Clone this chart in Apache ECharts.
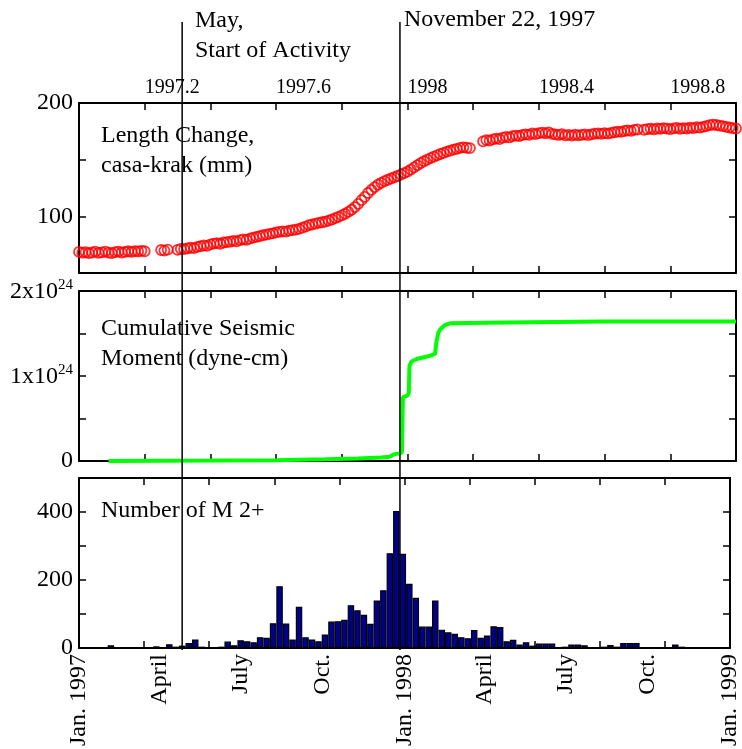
<!DOCTYPE html>
<html><head><meta charset="utf-8">
<script src="https://cdn.jsdelivr.net/npm/echarts@6/dist/echarts.min.js"></script>
<style>html,body{margin:0;padding:0;background:#fff}#c{width:742px;height:749px}</style>
</head><body><div id="c"></div>
<script>
// ---- data ----
const lengthYears = [
1997.00,1997.01,1997.02,1997.03,1997.04,1997.05,1997.06,1997.07,1997.08,1997.09,1997.10,1997.11,1997.12,1997.13,1997.14,1997.15,1997.16,1997.17,1997.18,1997.19,1997.20,
1997.25,1997.26,1997.27,1997.30,1997.31,1997.32,1997.33,1997.34,1997.35,1997.36,1997.37,1997.38,1997.39,1997.40,1997.41,1997.42,1997.43,1997.44,1997.45,1997.46,1997.47,1997.48,1997.49,
1997.50,1997.51,1997.52,1997.53,1997.54,1997.55,1997.56,1997.57,1997.58,1997.59,1997.60,1997.61,1997.62,1997.63,1997.64,1997.65,1997.66,1997.67,1997.68,1997.69,
1997.70,1997.71,1997.72,1997.73,1997.74,1997.75,1997.76,1997.77,1997.78,1997.79,1997.80,1997.81,1997.82,1997.83,1997.84,1997.85,1997.86,1997.87,1997.88,1997.89,
1997.90,1997.91,1997.92,1997.93,1997.94,1997.95,1997.96,1997.97,1997.98,1997.99,1998.00,1998.01,1998.02,1998.03,1998.04,1998.05,1998.06,1998.07,1998.08,1998.09,
1998.10,1998.11,1998.12,1998.13,1998.14,1998.15,1998.16,1998.17,1998.18,1998.19,
1998.23,1998.24,1998.25,1998.26,1998.27,1998.28,1998.29,1998.30,1998.31,1998.32,1998.33,1998.34,1998.35,1998.36,1998.37,1998.38,1998.39,
1998.40,1998.41,1998.42,1998.43,1998.44,1998.45,1998.46,1998.47,1998.48,1998.49,1998.50,1998.51,1998.52,1998.53,1998.54,1998.55,1998.56,1998.57,1998.58,1998.59,
1998.60,1998.61,1998.62,1998.63,1998.64,1998.65,1998.66,1998.67,1998.68,1998.69,1998.70,
1998.72,1998.73,1998.74,1998.75,1998.76,1998.77,1998.78,1998.79,1998.80,1998.81,1998.82,1998.83,1998.84,1998.85,1998.86,1998.87,1998.88,1998.89,
1998.90,1998.91,1998.92,1998.93,1998.94,1998.95,1998.96,1998.97,1998.98,1998.99,1999.00];
const lengthMm = [
68.6,67.9,68.3,67.5,68.1,68.8,67.7,68.2,68.9,68.0,67.6,68.4,68.8,68.1,68.6,69.2,68.7,69.3,69.0,69.6,69.2,
70.3,69.8,70.6,70.4,71.2,71.0,71.8,72.3,72.0,73.1,73.6,74.4,74.0,75.2,75.9,76.3,75.8,76.9,77.2,77.6,78.3,77.9,79.0,
79.6,79.2,80.4,81.2,81.8,82.5,83.3,83.9,84.6,85.0,85.8,86.3,86.8,86.5,87.4,87.9,88.3,88.9,90.1,91.0,
92.2,92.8,93.6,94.2,94.8,95.4,96.3,97.2,98.4,99.6,100.9,102.3,104.0,105.8,108.2,111.0,114.3,117.2,120.6,123.4,
125.8,127.9,129.6,131.0,132.3,133.4,134.5,135.6,136.9,138.2,139.5,141.3,143.2,145.1,147.0,148.6,150.0,151.4,152.6,153.8,
155.0,156.0,157.1,158.0,158.9,159.6,160.4,160.8,160.5,160.2,
166.2,167.3,166.8,167.9,168.6,168.2,169.4,170.1,169.6,170.8,171.3,170.9,171.8,172.4,172.0,173.1,172.6,
173.4,173.9,173.3,174.0,172.8,172.3,171.8,172.6,171.4,171.9,171.2,172.0,171.5,171.9,172.3,171.7,172.4,172.9,173.2,172.8,
173.5,173.0,173.7,174.2,174.8,174.5,175.3,175.8,175.4,176.3,176.6,
176.4,176.9,177.3,176.8,177.5,177.2,177.8,177.4,177.0,177.6,178.0,177.3,177.8,177.5,178.2,177.9,178.6,178.3,
179.0,179.6,180.4,181.0,180.6,180.1,179.6,179.0,178.4,177.8,177.5];

const momentYears = [1997.09,1997.40,1997.60,1997.75,1997.85,1997.92,1997.945,1997.96,1997.975,1997.983,1997.986,1997.999,1998.004,1998.006,1998.012,1998.028,1998.05,1998.07,1998.084,1998.088,1998.094,1998.10,1998.114,1998.13,1998.30,1998.60,1999.00];
const momentE24  = [0,0.005,0.01,0.02,0.03,0.04,0.05,0.08,0.09,0.10,0.75,0.77,0.80,1.12,1.17,1.20,1.22,1.24,1.26,1.40,1.51,1.55,1.60,1.62,1.63,1.64,1.64];

const histFirstCenter = 1997.0183;
const histBinWidth = 0.01993;
const quakeCounts = [
2,1,2,1,8,3,2,3,2,3,
2,5,2,11,4,7,15,25,4,3,
2,4,19,8,23,20,17,32,30,73,
182,72,25,121,32,25,20,40,78,79,
83,126,111,98,71,140,170,279,403,277,
189,148,63,63,140,54,46,42,32,29,
53,30,37,64,62,20,24,10,17,7,
13,13,13,2,4,10,10,8,2,2,
4,9,4,15,15,15,2,1,2,2,
3,10,4,2,1,1,2,1,2,3];

const eventYears = [1997.314, 1997.977];
const eventLabels = ['May,\nStart of Activity', 'November 22, 1997'];
const topTickValues = [1997.2, 1997.6, 1998.0, 1998.4, 1998.8];
const topTickLabels = ['1997.2', '1997.6', '1998', '1998.4', '1998.8'];
const monthTickValues = [1997.0, 1997.2466, 1997.4959, 1997.7479, 1998.0, 1998.2466, 1998.4959, 1998.7479, 1999.0];
const monthTickLabels = ['Jan. 1997', 'April', 'July', 'Oct.', 'Jan. 1998', 'April', 'July', 'Oct.', 'Jan. 1999'];
const lengthTickValues = [100, 200];
const momentTickValues = [0, 1, 2];
const countTickValues = [0, 200, 400];
const panelTitles = ['Length Change,\ncasa-krak (mm)', 'Cumulative Seismic\nMoment (dyne-cm)', 'Number of M 2+'];

// ---- chart ----
const FONT = '"Liberation Serif", "Times New Roman", serif';
function lookup(values, labels) {
  return function (v) {
    let b = 0;
    for (let i = 1; i < values.length; i++) if (Math.abs(values[i] - v) < Math.abs(values[b] - v)) b = i;
    return labels[b];
  };
}
const L = 79, R = 6;
const grids = [
  {left: L, right: R, top: 103, height: 170},
  {left: L, right: R, top: 291, height: 170},
  {left: L, right: R, top: 478, height: 171},
  {left: L, right: R, top: 22, height: 628}
];
const lineStyleAxis = {color: '#000', width: 2};
function xAx(g, pos, label) {
  return {
    type: 'value', gridIndex: g, position: pos, min: 1997, max: 1999, interval: 0.2,
    axisLine: {show: true, onZero: false, lineStyle: lineStyleAxis},
    axisTick: {show: true, inside: true, length: 7, lineStyle: {color: '#000', width: 1.5}},
    splitLine: {show: false},
    axisLabel: label || {show: false}
  };
}
function yAx(g, pos, min, max, interval, label) {
  return {
    type: 'value', gridIndex: g, position: pos, min: min, max: max, interval: interval,
    axisLine: {show: true, onZero: false, lineStyle: lineStyleAxis},
    axisTick: {show: true, inside: true, length: 7, lineStyle: {color: '#000', width: 1.5}},
    splitLine: {show: false},
    axisLabel: label || {show: false}
  };
}
const xAxes = [
  xAx(0, 'bottom'),
  xAx(0, 'top', {show: true, customValues: topTickValues, formatter: lookup(topTickValues, topTickLabels),
    fontFamily: FONT, fontSize: 20, color: '#000', align: 'left', margin: 5}),
  xAx(1, 'bottom'), xAx(1, 'top'),
  xAx(2, 'bottom', {show: true, customValues: monthTickValues, formatter: lookup(monthTickValues, monthTickLabels),
    fontFamily: FONT, fontSize: 24, color: '#000', rotate: 90, margin: 6}),
  xAx(2, 'top'),
  {type: 'value', gridIndex: 3, min: 1997, max: 1999, show: false}
];
const yAxes = [
  yAx(0, 'left', 50, 200, 50, {show: true, customValues: lengthTickValues, fontFamily: FONT, fontSize: 24, color: '#000', margin: 6}),
  yAx(0, 'right', 50, 200, 50),
  yAx(1, 'left', 0, 2, 0.5, {show: true, customValues: momentTickValues, fontFamily: FONT, fontSize: 24, color: '#000', margin: 6,
    formatter: function (v) { return v === 0 ? '{b|0}' : '{b|' + v + 'x10}{sup|24}'; },
    rich: {b: {fontFamily: FONT, fontSize: 24, color: '#000', verticalAlign: 'bottom'},
           sup: {fontFamily: FONT, fontSize: 15, color: '#000', verticalAlign: 'bottom', padding: [0, 0, 11, 0]}}}),
  yAx(1, 'right', 0, 2, 0.5),
  yAx(2, 'left', 0, 500, 100, {show: true, customValues: countTickValues, fontFamily: FONT, fontSize: 24, color: '#000', margin: 6}),
  yAx(2, 'right', 0, 500, 100),
  {type: 'value', gridIndex: 3, min: 0, max: 1, show: false}
];

const series = [
  {type: 'scatter', xAxisIndex: 0, yAxisIndex: 0, symbol: 'circle', symbolSize: 10, clip: false,
   itemStyle: {color: 'rgba(255,0,0,0)', borderColor: '#ff0000', borderWidth: 1.8},
   data: lengthYears.map((x, i) => [x, lengthMm[i]])},
  {type: 'line', xAxisIndex: 2, yAxisIndex: 2, symbol: 'none', lineStyle: {color: '#00ff00', width: 4},
   data: momentYears.map((x, i) => [x, momentE24[i]])},
  {type: 'bar', xAxisIndex: 4, yAxisIndex: 4, barWidth: '100%',
   itemStyle: {color: '#00008f', borderColor: '#000', borderWidth: 1.2},
   data: quakeCounts.map((c, k) => [histFirstCenter + k * histBinWidth, c])}
];
eventYears.forEach(function (yr) {
  series.push({type: 'line', xAxisIndex: 6, yAxisIndex: 6, symbol: 'none', z: 20, silent: true,
    lineStyle: {color: '#000', width: 1.5}, data: [[yr, 0], [yr, 1]]});
});

const titleTops = [121, 314, 496];
const graphic = panelTitles.map(function (t, i) {
  return {type: 'text', left: 101, top: titleTops[i], z: 5,
    style: {text: t, fontFamily: FONT, fontSize: 24, lineHeight: 30, fill: '#000'}};
});
graphic.push({type: 'text', left: 195, top: 6, z: 5, style: {text: eventLabels[0], fontFamily: FONT, fontSize: 24, lineHeight: 30, fill: '#000'}});
graphic.push({type: 'text', left: 404, top: 5, z: 5, style: {text: eventLabels[1], fontFamily: FONT, fontSize: 24, lineHeight: 30, fill: '#000'}});

const chart = echarts.init(document.getElementById('c'), null, {renderer: 'canvas'});
chart.setOption({
  animation: false,
  backgroundColor: '#fff',
  grid: grids,
  xAxis: xAxes,
  yAxis: yAxes,
  series: series,
  graphic: graphic
});
</script>
</body></html>
